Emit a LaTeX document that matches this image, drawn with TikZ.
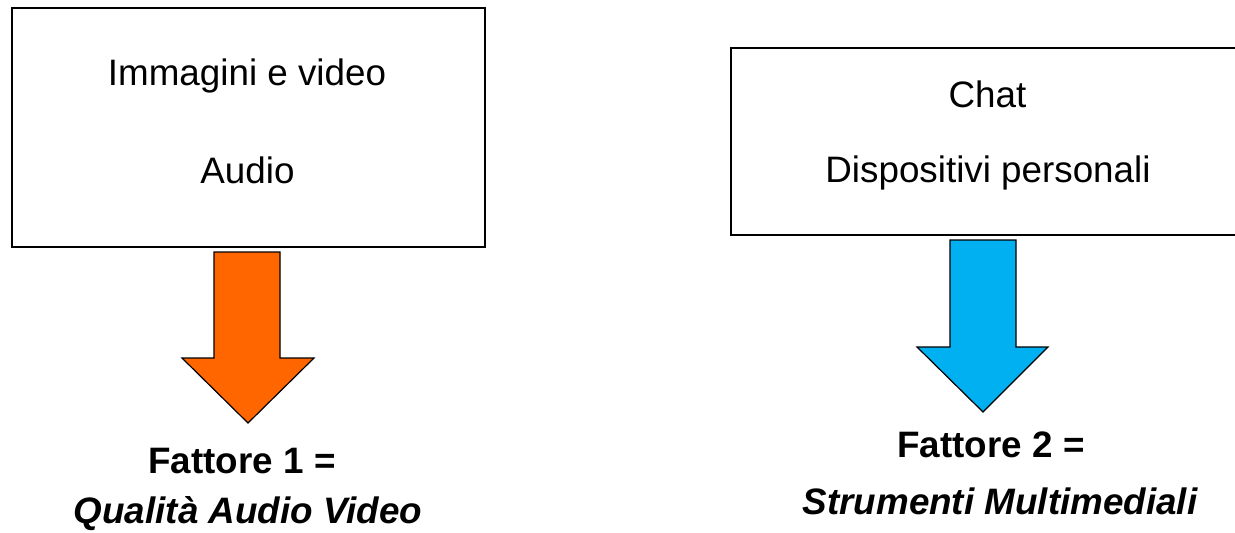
\documentclass[tikz,border=0pt]{standalone}
\usepackage{fontspec}
\setmainfont{Liberation Sans}
\definecolor{arancio}{HTML}{FF6600}
\definecolor{azzurro}{HTML}{00B0F0}
\begin{document}
\begin{tikzpicture}[x=0.5pt,y=-0.5pt,
  box/.style={draw,line width=1pt,inner sep=0pt,anchor=north west},
  txt/.style={anchor=base,inner sep=0pt,font=\fontsize{18.4}{22}\selectfont},
  fattore/.style={txt,font=\fontsize{18.4}{22}\selectfont\bfseries},
  nome/.style={txt,font=\fontsize{18.4}{22}\selectfont\bfseries\itshape},
  blockarrow/.style={draw,line width=0.6pt,line join=miter}]
\useasboundingbox (0,0) rectangle (1235,532);
\clip (0,0) rectangle (1235,532);
\node[box,minimum width=236.5pt,minimum height=119.5pt] (media) at (11,7) {};
\node[box,minimum width=258pt,minimum height=93.5pt] (strumenti) at (730,47) {};
\node[txt] (immagini) at (247,85) {Immagini e video};
\node[txt] (audio) at (247.5,183) {Audio};
\node[txt] (chat) at (987.5,107) {Chat};
\node[txt] (dispositivi) at (988,182) {Dispositivi personali};
\draw[blockarrow,fill=arancio] (214,252) -- (280,252) -- (280,358) -- (314,358) -- (248,423) -- (182,358) -- (214,358) -- cycle;
\draw[blockarrow,fill=azzurro] (950,240) -- (1016,240) -- (1016,347) -- (1048,347) -- (983,412) -- (917,347) -- (950,347) -- cycle;
\node[fattore] (f1) at (242,473) {Fattore 1 =};
\node[nome] (q1) at (248,523) {Qualità Audio Video};
\node[fattore] (f2) at (991,457) {Fattore 2 =};
\node[nome] (q2) at (1000,514) {Strumenti Multimediali};
\end{tikzpicture}
\end{document}
